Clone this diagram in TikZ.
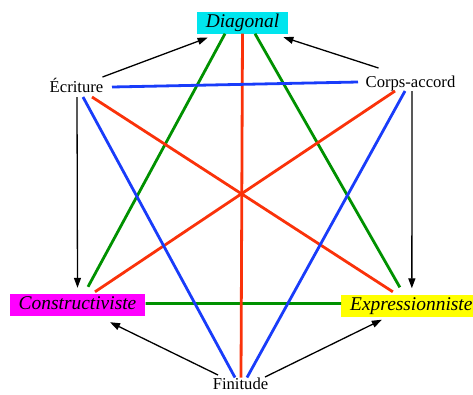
\documentclass[tikz,border=0pt]{standalone}
\usepackage{fontspec}
\setmainfont{Liberation Serif}
\usetikzlibrary{arrows.meta,calc}
\definecolor{dcyan}{RGB}{0,229,238}
\definecolor{dmag}{RGB}{255,0,255}
\definecolor{dyel}{RGB}{255,255,0}
\definecolor{lgreen}{RGB}{0,145,0}
\definecolor{lred}{RGB}{250,50,10}
\definecolor{lblue}{RGB}{25,60,250}
\tikzset{
  boxlab/.style={font=\fontsize{19.5}{20}\selectfont\itshape, inner xsep=9bp, inner ysep=1.5bp,
    text height=14bp, text depth=5bp, minimum height=22bp},
  plainlab/.style={font=\fontsize{16.7}{18}\selectfont, inner sep=0pt, anchor=base},
  arr/.style={draw=black, line width=1.3bp, -{Triangle[length=10bp,width=7bp]}},
  gline/.style={draw=lgreen, line width=2.8bp},
  rline/.style={draw=lred, line width=2.8bp},
  bline/.style={draw=lblue, line width=2.8bp}
}
\begin{document}
\begin{tikzpicture}[x=1bp,y=-1bp]
\useasboundingbox (0,0) rectangle (473,394);
\node[boxlab, fill=dcyan] (D) at (242.5,22.5) {Diagonal};
\node[boxlab, fill=dmag] (C) at (77.5,305) {Constructiviste};
\node[boxlab, fill=dyel, anchor=west] (X) at (341,305.5) {Expressionniste};
\node[plainlab] (E) at (76.5,92) {Écriture};
\node[plainlab] (K) at (410.5,87) {Corps-accord};
\node[plainlab] (F) at (240.5,389.5) {Finitude};
% colored lines
\draw[gline] ($(D.south)+(-17.5,0)$) -- ($(C.north)+(10.5,-7)$);
\draw[gline] ($(D.south)+(12.5,0)$) -- ($(X.north)+(-11.5,-7)$);
\draw[gline] ($(C.east)+(0,-1.5)$) -- ($(X.west)+(0,-2)$);
\draw[rline] (D.south) -- ($(F.base)+(0.5,-12)$);
\draw[rline] ($(E.base)+(15.5,5)$) -- ($(X.north)+(-18.5,-2.5)$);
\draw[rline] ($(K.base)+(-15.5,4)$) -- ($(C.north)+(17.5,-2)$);
\draw[bline] ($(E.base)+(35.5,-5)$) -- ($(K.base)+(-52.5,-5)$);
\draw[bline] ($(E.base)+(6.5,5)$) -- ($(F.base)+(-5.5,-12)$);
\draw[bline] ($(K.base)+(-5.5,4)$) -- ($(F.base)+(6.5,-12)$);
% arrows
\draw[arr] ($(E.base)+(26,-15)$) -- ($(D.south west)+(11,4)$);
\draw[arr] ($(K.base)+(-32,-19)$) -- ($(D.south east)+(-5,3.5)$);
\draw[arr] ($(E.base)+(0.5,5)$) -- ($(C.north)+(0,-6)$);
\draw[arr] ($(K.base)+(1.5,4)$) -- ($(X.north)+(0.5,-6)$);
\draw[arr] ($(F.base)+(-22.5,-14.5)$) -- ($(C.south)+(32.5,6)$);
\draw[arr] ($(F.base)+(24.5,-12.5)$) -- ($(X.south)+(-29.5,3)$);
\end{tikzpicture}
\end{document}
